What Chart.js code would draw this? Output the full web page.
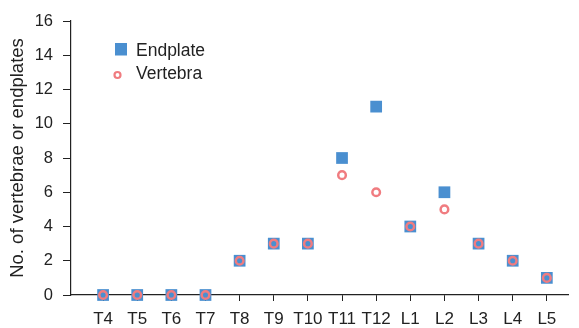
<!DOCTYPE html>
<html lang="en">

<head>
  <meta charset="UTF-8">
  <title>Vertebrae and endplates by level</title>
  <script src="https://cdn.jsdelivr.net/npm/chart.js@4.4.0/dist/chart.umd.min.js"></script>
</head>

<body>
  <style>
    body { margin: 0; background: #fff; }
    #wrap { width: 579px; height: 328px; }
  </style>

  <div id="wrap"><canvas id="myChart"></canvas></div>
  <script>
    const levels = ['T4', 'T5', 'T6', 'T7', 'T8', 'T9', 'T10', 'T11', 'T12', 'L1', 'L2', 'L3', 'L4', 'L5'];
    const endplate = [0, 0, 0, 0, 2, 3, 3, 8, 11, 4, 6, 3, 2, 1];
    const vertebra = [0, 0, 0, 0, 2, 3, 3, 7, 6, 4, 5, 3, 2, 1];
    const yTicks = [0, 2, 4, 6, 8, 10, 12, 14, 16];

    const family = 'Liberation Sans, Arial, sans-serif';
    const axisColor = '#222';
    const blue = '#4a8fd0';
    const red = '#f07c80';

    // little legend drawn inside the plot, top left
    const innerLegend = {
      id: 'innerLegend',
      afterDraw(chart) {
        const ctx = chart.ctx;
        ctx.save();
        ctx.fillStyle = blue;
        ctx.fillRect(115, 43, 12, 12.5);
        ctx.beginPath();
        ctx.arc(117.5, 75, 3, 0, Math.PI * 2);
        ctx.strokeStyle = red;
        ctx.lineWidth = 2.2;
        ctx.stroke();
        ctx.fillStyle = axisColor;
        ctx.font = '17.5px ' + family;
        ctx.textBaseline = 'middle';
        ctx.fillText('Endplate', 136, 51);
        ctx.fillText('Vertebra', 136, 74.5);
        ctx.restore();
      }
    };

    const data = {
      datasets: [{
        label: 'Endplate',
        order: 2, // drawn under the circles
        data: endplate.map((v, i) => ({ x: i, y: v })),
        pointStyle: 'rect',
        pointRadius: 8.3,
        backgroundColor: blue,
        borderColor: blue,
        borderWidth: 0,
        clip: false
      }, {
        label: 'Vertebra',
        order: 1,
        data: vertebra.map((v, i) => ({ x: i, y: v })),
        pointStyle: 'circle',
        pointRadius: 3.8,
        backgroundColor: 'rgba(0,0,0,0)',
        borderColor: red,
        borderWidth: 2.5,
        clip: false
      }]
    };

    const config = {
      type: 'scatter',
      data,
      plugins: [innerLegend],
      options: {
        responsive: true,
        maintainAspectRatio: false,
        animation: false,
        layout: { padding: { top: 21, right: 11, left: 0, bottom: 0 } },
        plugins: {
          legend: { display: false },
          tooltip: { enabled: false }
        },
        scales: {
          x: {
            type: 'linear',
            min: -0.94,
            max: 13.62,
            z: 1,
            afterBuildTicks: axis => { axis.ticks = levels.map((l, i) => ({ value: i })); },
            afterFit: axis => { axis.height = 33; },
            ticks: {
              callback: v => levels[v],
              color: axisColor,
              font: { family, size: 17 },
              padding: 8,
              maxRotation: 0,
              autoSkip: false
            },
            grid: { drawOnChartArea: false, tickLength: 6, color: axisColor },
            border: { color: axisColor, width: 1.2 }
          },
          y: {
            min: 0,
            max: 16,
            afterBuildTicks: axis => { axis.ticks = yTicks.map(v => ({ value: v })); },
            afterFit: axis => { axis.width = 71; },
            ticks: { color: axisColor, font: { family, size: 16.5 }, padding: 10 },
            grid: { drawOnChartArea: false, tickLength: 8, color: axisColor },
            border: { color: axisColor, width: 1.2 },
            title: {
              display: true,
              text: 'No. of vertebrae or endplates',
              color: axisColor,
              font: { family, size: 18.5 },
              padding: { top: 7, bottom: 0 }
            }
          }
        }
      }
    };

    new Chart(document.getElementById('myChart'), config);
  </script>

</body>

</html>
